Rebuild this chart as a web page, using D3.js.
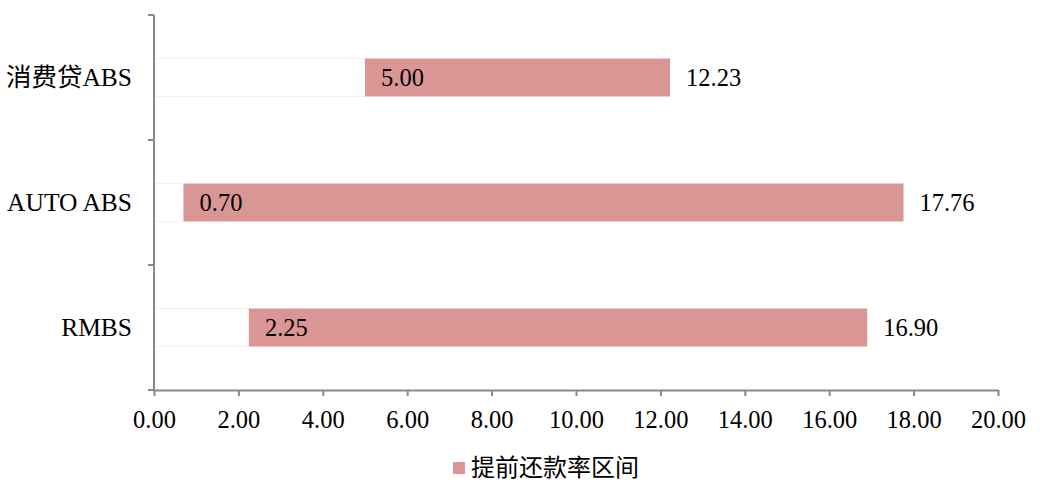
<!DOCTYPE html>
<html><head><meta charset="utf-8">
<script src="https://cdn.jsdelivr.net/npm/d3@7"></script>
<style>body{margin:0;background:#fff;}</style>
</head><body>
<svg id="c" width="1058" height="496"></svg>
<script>
const categories = ["消费贷ABS", "AUTO ABS", "RMBS"];
const minValues = [5.00, 0.70, 2.25];
const maxValues = [12.23, 17.76, 16.90];
const xTicks = [0, 2, 4, 6, 8, 10, 12, 14, 16, 18, 20];
const legendLabel = "提前还款率区间";

(function () {
const svg = d3.select("#c");
const pLeft = 154, pRight = 998, pTop = 15, pBottom = 390;
const font = "'Liberation Serif','Times New Roman','Noto Sans CJK SC',serif";
const axisColor = "#898989";
const barColor = "#DA9694";

const x = d3.scaleLinear().domain([0, 20]).range([pLeft, pRight]);
const y = d3.scaleBand().domain(categories).range([pTop, pBottom]).paddingInner(0.696).paddingOuter(0.348);
const yOuter = d3.scaleBand().domain(categories).range([pTop, pBottom]);

const data = categories.map((c, i) => ({c, min: minValues[i], max: maxValues[i]}));

svg.selectAll("rect.base").data(data).enter().append("rect")
  .attr("x", x(0)).attr("y", d => y(d.c))
  .attr("width", d => x(d.min) - x(0)).attr("height", y.bandwidth())
  .attr("fill", "#fff").attr("stroke", "#fbeeee").attr("stroke-width", 1);

svg.selectAll("rect.rng").data(data).enter().append("rect")
  .attr("x", d => x(d.min)).attr("y", d => y(d.c))
  .attr("width", d => x(d.max) - x(d.min)).attr("height", y.bandwidth())
  .attr("fill", barColor);

svg.selectAll("text.minl").data(data).enter().append("text")
  .attr("x", d => x(d.min) + 16).attr("y", d => y(d.c) + y.bandwidth() / 2)
  .attr("dy", "0.35em").attr("font-family", font).attr("font-size", 24.5).attr("fill", "#000")
  .text(d => d.min.toFixed(2));
svg.selectAll("text.maxl").data(data).enter().append("text")
  .attr("x", d => x(d.max) + 16).attr("y", d => y(d.c) + y.bandwidth() / 2)
  .attr("dy", "0.35em").attr("font-family", font).attr("font-size", 24.5).attr("fill", "#000")
  .text(d => d.max.toFixed(2));

const gx = svg.append("g").attr("transform", `translate(0,${pBottom})`)
  .call(d3.axisBottom(x).tickValues(xTicks).tickFormat(d3.format(".2f")).tickSize(6).tickSizeOuter(0));
gx.select(".domain").attr("stroke", axisColor).attr("stroke-width", 2);
gx.selectAll(".tick line").attr("stroke", axisColor).attr("stroke-width", 2);
gx.selectAll(".tick text").attr("font-family", font).attr("font-size", 24.5).attr("fill", "#000").attr("dy", "0").attr("y", 38);

svg.append("line").attr("x1", pLeft).attr("x2", pLeft).attr("y1", pTop).attr("y2", pBottom)
  .attr("stroke", axisColor).attr("stroke-width", 2);
const bounds = categories.map(c => yOuter(c)).concat([pBottom]);
svg.selectAll("line.yt").data(bounds).enter().append("line")
  .attr("x1", pLeft - 6).attr("x2", pLeft).attr("y1", d => d).attr("y2", d => d)
  .attr("stroke", axisColor).attr("stroke-width", 2);
svg.selectAll("text.cat").data(categories).enter().append("text")
  .attr("x", 132).attr("y", d => y(d) + y.bandwidth() / 2).attr("dy", "0.35em")
  .attr("text-anchor", "end").attr("font-family", font).attr("font-size", 25.5).attr("fill", "#000")
  .text(d => d);

svg.append("rect").attr("x", 453).attr("y", 462).attr("width", 12).attr("height", 12).attr("fill", barColor);
svg.append("text").attr("x", 471).attr("y", 468).attr("dy", "0.35em")
  .attr("font-family", "'Noto Sans CJK SC',sans-serif").attr("font-size", 24).attr("fill", "#000")
  .text(legendLabel);
})();
</script>
</body></html>
